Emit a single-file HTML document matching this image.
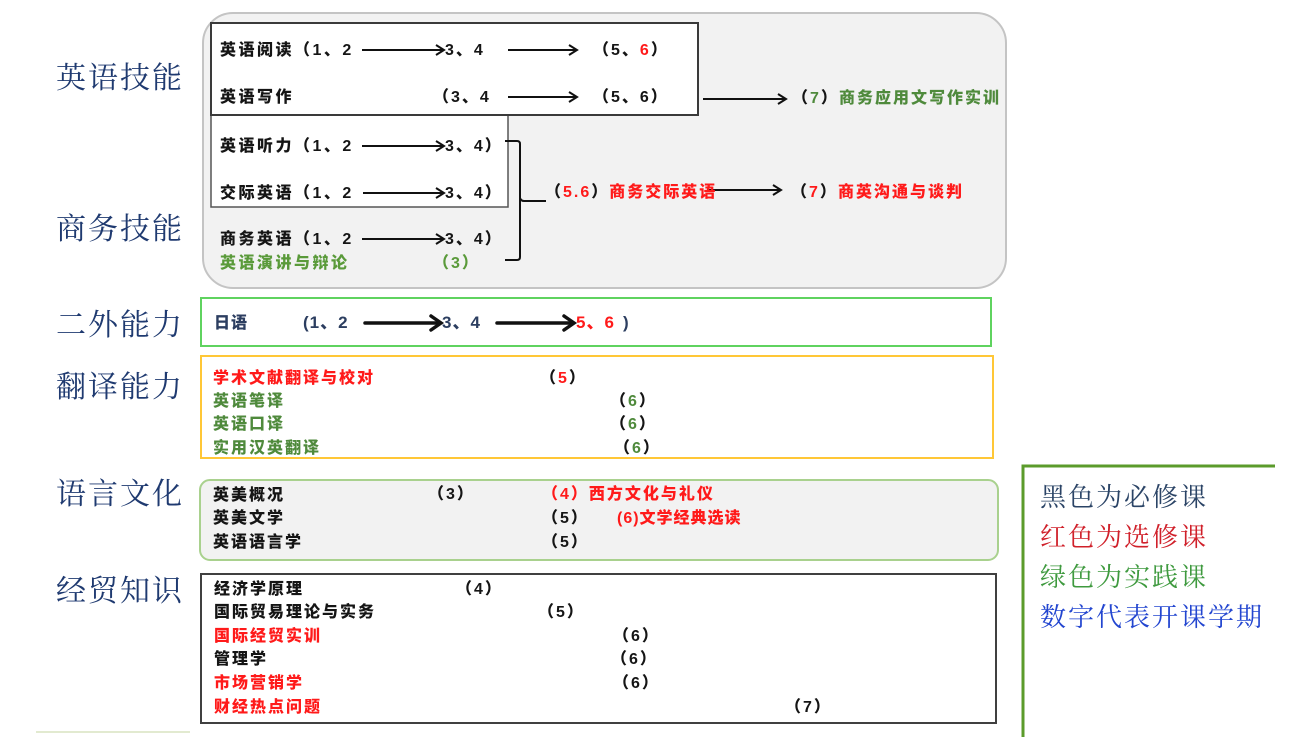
<!DOCTYPE html>
<html><head><meta charset="utf-8">
<style>
html,body{margin:0;padding:0;background:#fff;}
#c{position:relative;width:1311px;height:737px;overflow:hidden;background:#fff;}
svg{position:absolute;left:0;top:0;}
.t{position:absolute;white-space:nowrap;font-family:"Liberation Sans","Noto Sans CJK SC",sans-serif;font-weight:900;font-size:16px;line-height:20px;height:20px;letter-spacing:2px;color:#151515;margin-top:1px;}
.L{position:absolute;white-space:nowrap;font-family:"Liberation Serif","Noto Serif CJK SC",serif;font-size:30px;line-height:36px;letter-spacing:2px;color:#1f3a70;margin-top:3px;}
.G{position:absolute;white-space:nowrap;font-family:"Liberation Serif","Noto Serif CJK SC",serif;font-size:26px;line-height:32px;letter-spacing:2px;margin-top:3px;}
.r{color:#ff1a1a;}
.g{color:#4f8a3c;}
.g2{color:#5a9a3a;}
.k{color:#151515;}
.n{color:#2c3e60;}
</style></head><body><div id="c">
<svg width="1311" height="737" viewBox="0 0 1311 737">
  <rect x="203" y="13" width="803" height="275" rx="30" ry="30" fill="#f2f2f2" stroke="#c4c4c4" stroke-width="2"/>
  <rect x="211" y="115" width="297" height="92" fill="#fff" stroke="#555" stroke-width="1.5"/>
  <rect x="211" y="23" width="487" height="92" fill="#fff" stroke="#3a3a3a" stroke-width="2"/>
  <g stroke="#111" stroke-width="2" fill="none">
    <line x1="362" y1="50" x2="444" y2="50"/><path d="M436 45 L444 50 L436 55"/>
    <line x1="508" y1="50" x2="577" y2="50"/><path d="M569 45 L577 50 L569 55"/>
    <line x1="508" y1="97" x2="577" y2="97"/><path d="M569 92 L577 97 L569 102"/>
    <line x1="703" y1="99" x2="786" y2="99"/><path d="M778 94 L786 99 L778 104"/>
    <line x1="362" y1="146" x2="444" y2="146"/><path d="M436 141 L444 146 L436 151"/>
    <line x1="363" y1="193" x2="444" y2="193"/><path d="M436 188 L444 193 L436 198"/>
    <line x1="362" y1="239" x2="444" y2="239"/><path d="M436 234 L444 239 L436 244"/>
    <path d="M505 141 H517 Q520 141 520 144 V257 Q520 260 517 260 H505"/>
    <path d="M520 198 Q521 201 524 201 H546"/>
    <line x1="707" y1="190" x2="781" y2="190"/><path d="M773 185 L781 190 L773 195"/>
    <line x1="466" y1="494" x2="526" y2="494"/><path d="M518 489 L526 494 L518 499"/>
    <line x1="574" y1="518" x2="615" y2="518"/><path d="M607 513 L615 518 L607 523"/>
  </g>
  <g stroke="#111" stroke-width="3.5" fill="none" stroke-linecap="round">
    <line x1="365" y1="323" x2="440" y2="323"/><path d="M431 316 L441 323 L431 330"/>
    <line x1="497" y1="323" x2="573" y2="323"/><path d="M564 316 L574 323 L564 330"/>
  </g>
  <rect x="201" y="298" width="790" height="48" fill="none" stroke="#5fd35f" stroke-width="2"/>
  <rect x="201" y="356" width="792" height="102" fill="none" stroke="#ffc736" stroke-width="2"/>
  <rect x="200" y="480" width="798" height="80" rx="10" ry="10" fill="#f2f2f2" stroke="#a9d18e" stroke-width="2"/>
  <rect x="201" y="574" width="795" height="149" fill="none" stroke="#404040" stroke-width="2"/>
  <polyline points="1023,737 1023,466 1275,466" fill="none" stroke="#5b9b2b" stroke-width="3"/>
  <line x1="36" y1="732" x2="190" y2="732" stroke="#e2ead0" stroke-width="2"/>
</svg>

<div class="L" style="left:56px;top:58px;">英语技能</div>
<div class="L" style="left:56px;top:209px;">商务技能</div>
<div class="L" style="left:56px;top:305px;">二外能力</div>
<div class="L" style="left:56px;top:367px;">翻译能力</div>
<div class="L" style="left:56px;top:474px;">语言文化</div>
<div class="L" style="left:56px;top:571px;">经贸知识</div>

<div class="t" style="left:220px;top:40px;letter-spacing:2.5px;">英语阅读（1、2</div>
<div class="t" style="left:445px;top:40px;">3、4</div>
<div class="t" style="left:593px;top:40px;">（5、<span class="r">6</span>）</div>

<div class="t" style="left:220px;top:87px;letter-spacing:2.5px;">英语写作</div>
<div class="t" style="left:433px;top:87px;">（3、4</div>
<div class="t" style="left:593px;top:87px;">（5、6）</div>
<div class="t" style="left:792px;top:88px;">（<span class="g">7</span>）<span class="g">商务应用文写作实训</span></div>

<div class="t" style="left:220px;top:136px;letter-spacing:2.5px;">英语听力（1、2</div>
<div class="t" style="left:445px;top:136px;">3、4）</div>
<div class="t" style="left:220px;top:183px;letter-spacing:2.5px;">交际英语（1、2</div>
<div class="t" style="left:445px;top:183px;">3、4）</div>
<div class="t" style="left:220px;top:229px;letter-spacing:2.5px;">商务英语（1、2</div>
<div class="t" style="left:445px;top:229px;">3、4）</div>
<div class="t g2" style="left:220px;top:253px;letter-spacing:2.5px;">英语演讲与辩论</div>
<div class="t g2" style="left:433px;top:253px;">（3）</div>

<div class="t" style="left:545px;top:182px;">（<span class="r">5.6</span>）<span class="r">商务交际英语</span></div>
<div class="t" style="left:791px;top:182px;">（<span class="r">7</span>）<span class="r">商英沟通与谈判</span></div>

<div class="t n" style="left:214px;top:313px;font-size:16px;letter-spacing:1px;">日语</div>
<div class="t n" style="left:303px;top:312px;font-size:17px;letter-spacing:1px;">(1、2</div>
<div class="t n" style="left:442px;top:312px;font-size:17px;letter-spacing:1px;">3、4</div>
<div class="t r" style="left:576px;top:312px;font-size:17px;letter-spacing:1px;">5、6</div>
<div class="t n" style="left:623px;top:312px;font-size:17px;">)</div>

<div class="t r" style="left:213px;top:368px;">学术文献翻译与校对</div>
<div class="t" style="left:540px;top:368px;">（<span class="r">5</span>）</div>
<div class="t g" style="left:213px;top:391px;">英语笔译</div>
<div class="t" style="left:610px;top:391px;">（<span class="g">6</span>）</div>
<div class="t g" style="left:213px;top:414px;">英语口译</div>
<div class="t" style="left:610px;top:414px;">（<span class="g">6</span>）</div>
<div class="t g" style="left:213px;top:438px;">实用汉英翻译</div>
<div class="t" style="left:614px;top:438px;">（<span class="g">6</span>）</div>

<div class="t" style="left:213px;top:485px;">英美概况</div>
<div class="t" style="left:428px;top:484px;">（3）</div>
<div class="t r" style="left:542px;top:484px;">（4）西方文化与礼仪</div>
<div class="t" style="left:213px;top:508px;">英美文学</div>
<div class="t" style="left:542px;top:508px;">（5）</div>
<div class="t r" style="left:617px;top:508px;letter-spacing:1px;">(6)文学经典选读</div>
<div class="t" style="left:213px;top:532px;">英语语言学</div>
<div class="t" style="left:542px;top:532px;">（5）</div>

<div class="t" style="left:214px;top:579px;">经济学原理</div>
<div class="t" style="left:456px;top:579px;">（4）</div>
<div class="t" style="left:214px;top:602px;">国际贸易理论与实务</div>
<div class="t" style="left:538px;top:602px;">（5）</div>
<div class="t r" style="left:214px;top:626px;">国际经贸实训</div>
<div class="t" style="left:613px;top:626px;">（6）</div>
<div class="t" style="left:214px;top:649px;">管理学</div>
<div class="t" style="left:611px;top:649px;">（6）</div>
<div class="t r" style="left:214px;top:673px;">市场营销学</div>
<div class="t" style="left:613px;top:673px;">（6）</div>
<div class="t r" style="left:214px;top:697px;">财经热点问题</div>
<div class="t" style="left:785px;top:697px;">（7）</div>

<div class="G" style="left:1040px;top:479px;color:#2b4466;">黑色为必修课</div>
<div class="G" style="left:1040px;top:519px;color:#d0202a;">红色为选修课</div>
<div class="G" style="left:1040px;top:559px;color:#3f9a3f;">绿色为实践课</div>
<div class="G" style="left:1040px;top:599px;color:#2346d0;">数字代表开课学期</div>
</div></body></html>
